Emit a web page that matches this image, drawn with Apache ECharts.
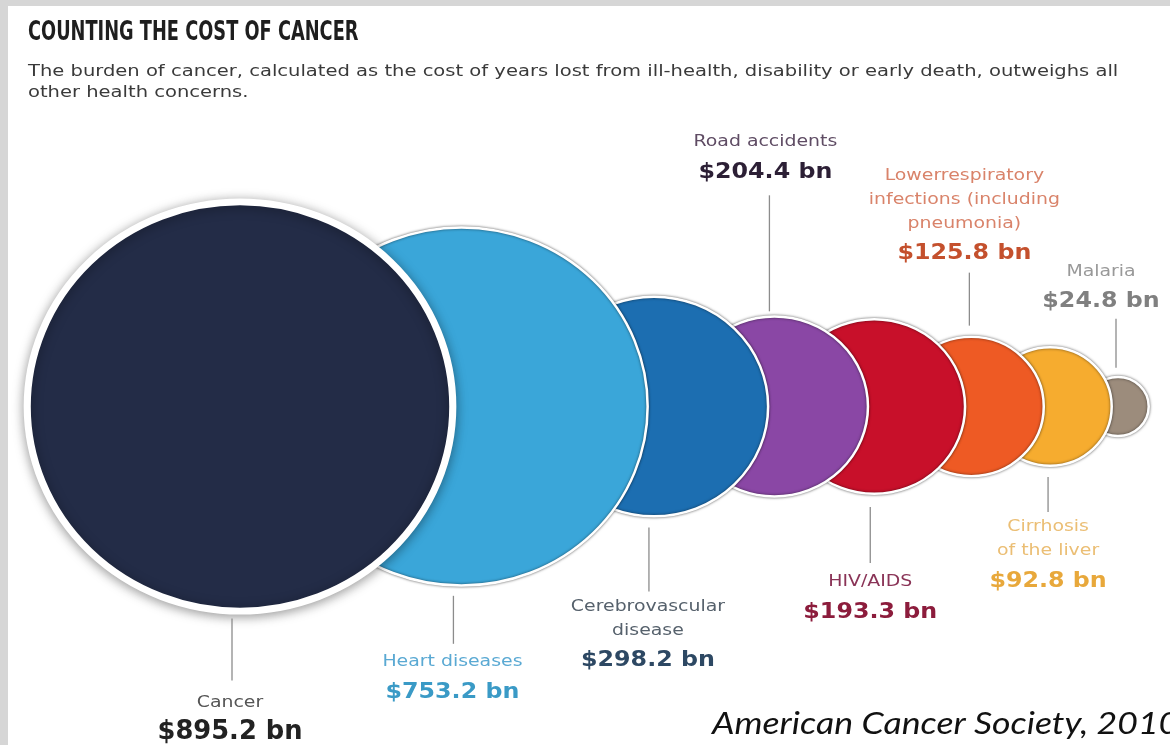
<!DOCTYPE html>
<html>
<head>
<meta charset="utf-8">
<script src="https://cdn.jsdelivr.net/npm/echarts@6/dist/echarts.min.js"></script>
<style>
html,body{margin:0;padding:0;background:#fff;}
#chart{width:1170px;height:745px;}
</style>
</head>
<body>
<div id="chart"></div>
<script>
// ---------------- data ----------------
const categories = ['Cancer', 'Heart diseases', 'Cerebrovascular disease', 'Road accidents',
  'HIV/AIDS', 'Lower respiratory infections (including pneumonia)', 'Cirrhosis of the liver', 'Malaria'];
const values = [895.2, 753.2, 298.2, 204.4, 193.3, 125.8, 92.8, 24.8];
const labelLines = [
  ['Cancer'],
  ['Heart diseases'],
  ['Cerebrovascular', 'disease'],
  ['Road accidents'],
  ['HIV/AIDS'],
  ['Lowerrespiratory', 'infections (including', 'pneumonia)'],
  ['Cirrhosis', 'of the liver'],
  ['Malaria']
];
const titleText = 'COUNTING THE COST OF CANCER';
const subtitleLines = [
  'The burden of cancer, calculated as the cost of years lost from ill-health, disability or early death, outweighs all',
  'other health concerns.'
];
const sourceText = 'American Cancer Society, 2010';

// ---------------- styles / layout ----------------
const fills = ['#232c47', '#3aa6d9', '#1c6eb1', '#8a47a5', '#c8102a', '#ee5a24', '#f6ac2f', '#9c8c7c'];
const nameColors = ['#555555', '#5aa9d3', '#56616c', '#5f4c64', '#8a3457', '#d9836a', '#ebbe74', '#999999'];
const valueColors = ['#222222', '#3a9ac6', '#2d4863', '#2c1f35', '#8c1c3c', '#c4502d', '#e8a83b', '#808080'];
const borderW = [7, 2.5, 2.5, 2.5, 2.5, 2.5, 2.5, 2.5];
const highlight = [1.043, 1, 1, 1, 1, 1, 1, 1];
// leader line / label placement (pixels); tdx = text offset from its leader line
const labelStyle = [
  {side: 'bottom', dx: -8, tdx: -2, gap: 4,  len: 62, pad: 10},
  {side: 'bottom', dx: -8, tdx: -1, gap: 9,  len: 48, pad: 6},
  {side: 'bottom', dx: -5, tdx: -1, gap: 10, len: 64, pad: 3},
  {side: 'top',    dx: -5, tdx: -4, gap: 4,  len: 116, pad: 8},
  {side: 'bottom', dx: -4, tdx: 0,  gap: 12, len: 56, pad: 7},
  {side: 'top',    dx: -2, tdx: -5, gap: 10, len: 53, pad: 4},
  {side: 'bottom', dx: -2, tdx: 0,  gap: 10, len: 35, pad: 3},
  {side: 'top',    dx: -2, tdx: -15, gap: 8, len: 49, pad: 2}
];
const CY = 406.5, X0 = 240, GAP = 5, SX = 1.04;
const SCALE_C = 5.42, SCALE_P = 0.528;

// radius scale (power scale on value)
const fillR = values.map((v, i) => SCALE_C * Math.pow(v, SCALE_P) * highlight[i]);
const outerR = fillR.map((r, i) => r + borderW[i] / 2);
// circles placed so each centre sits just past the previous circle's right edge
const cx = [];
values.forEach((v, i) => {
  cx.push(i === 0 ? X0 : cx[i - 1] + outerR[i - 1] * SX + GAP);
});

const fmt = v => '$' + v.toFixed(1) + ' bn';

const circleData = categories.map((name, i) => ({
  name: name,
  value: [cx[i], CY, values[i]],
  symbolSize: [2 * fillR[i] * SX, 2 * fillR[i]],
  itemStyle: {
    color: fills[i],
    opacity: 1,
    borderColor: '#ffffff',
    borderWidth: borderW[i],
    shadowBlur: i === 0 ? 12 : 3,
    shadowColor: i === 0 ? 'rgba(0,0,0,0.35)' : 'rgba(0,0,0,0.55)',
    shadowOffsetY: i === 0 ? 2 : 0
  }
})).reverse(); // smallest first so larger circles sit on top

const NAME_LH = 24, VAL_LH = 30, NV_GAP = 3;

const chart = echarts.init(document.getElementById('chart'), null, {renderer: 'canvas'});
chart.setOption({
  animation: false,
  backgroundColor: '#ffffff',
  grid: {left: 0, right: 0, top: 0, bottom: 0},
  xAxis: {type: 'value', min: 0, max: 1170, show: false},
  yAxis: {type: 'value', min: 0, max: 745, inverse: true, show: false},
  graphic: [
    {type: 'rect', shape: {x: 0, y: 0, width: 8, height: 745}, style: {fill: '#d6d6d6'}, z: 0},
    {type: 'rect', shape: {x: 0, y: 0, width: 1170, height: 6}, style: {fill: '#d6d6d6'}, z: 0},
    {type: 'text', x: 28, y: 33, scaleX: 0.76,
      style: {text: titleText, x: 0, y: 0, fill: '#1e1e1e', font: 'bold 26px "DejaVu Sans Condensed"', verticalAlign: 'middle'}},
    {type: 'text', x: 28, y: 72, scaleX: 1.22,
      style: {text: subtitleLines[0], x: 0, y: 0, fill: '#3a3a3a', font: '16px "DejaVu Sans"', verticalAlign: 'middle'}},
    {type: 'text', x: 28, y: 93, scaleX: 1.22,
      style: {text: subtitleLines[1], x: 0, y: 0, fill: '#3a3a3a', font: '16px "DejaVu Sans"', verticalAlign: 'middle'}},
    {type: 'text', x: 712, y: 724, scaleX: 1.15,
      style: {text: sourceText, x: 0, y: 0, fill: '#111111', font: 'italic 31px Lato', verticalAlign: 'middle'}}
  ],
  series: [
    {
      type: 'scatter',
      silent: true,
      symbol: 'circle',
      data: circleData,
      z: 2
    },
    {
      type: 'custom',
      silent: true,
      z: 3,
      data: categories.map((n, i) => [cx[i], CY, values[i]]),
      encode: {x: 0, y: 1},
      renderItem: function (params, api) {
        const i = params.dataIndex;
        const c = api.coord([api.value(0), api.value(1)]);
        const st = labelStyle[i];
        const r = outerR[i];
        const x = c[0] + st.dx;
        const tx = x + st.tdx;
        const lines = labelLines[i];
        let y1, y2, nameTop, valTop;
        if (st.side === 'bottom') {
          y1 = c[1] + r + st.gap;
          y2 = y1 + st.len;
          nameTop = y2 + st.pad;
          valTop = nameTop + lines.length * NAME_LH + NV_GAP;
        } else {
          y2 = c[1] - r - st.gap;
          y1 = y2 - st.len;
          valTop = y1 - st.pad - VAL_LH;
          nameTop = valTop - lines.length * NAME_LH - NV_GAP;
        }
        const isCancer = i === 0;
        return {
          type: 'group',
          children: [
            {type: 'line', shape: {x1: x, y1: y1, x2: x, y2: y2},
              style: {stroke: '#8c8c8c', lineWidth: 1.3}},
            {type: 'text', x: tx, y: nameTop, scaleX: 1.18,
              style: {text: lines.join('\n'), x: 0, y: 0, align: 'center', verticalAlign: 'top',
                fill: nameColors[i], font: '16px "DejaVu Sans"', lineHeight: NAME_LH}},
            {type: 'text', x: tx, y: valTop, scaleX: isCancer ? 1.1 : 1.08,
              style: {text: fmt(values[i]), x: 0, y: 0, align: 'center', verticalAlign: 'top',
                fill: valueColors[i],
                font: isCancer ? 'bold 26px "DejaVu Sans Condensed"' : 'bold 22px "DejaVu Sans"',
                lineHeight: VAL_LH}}
          ]
        };
      }
    }
  ]
});
</script>
</body>
</html>
